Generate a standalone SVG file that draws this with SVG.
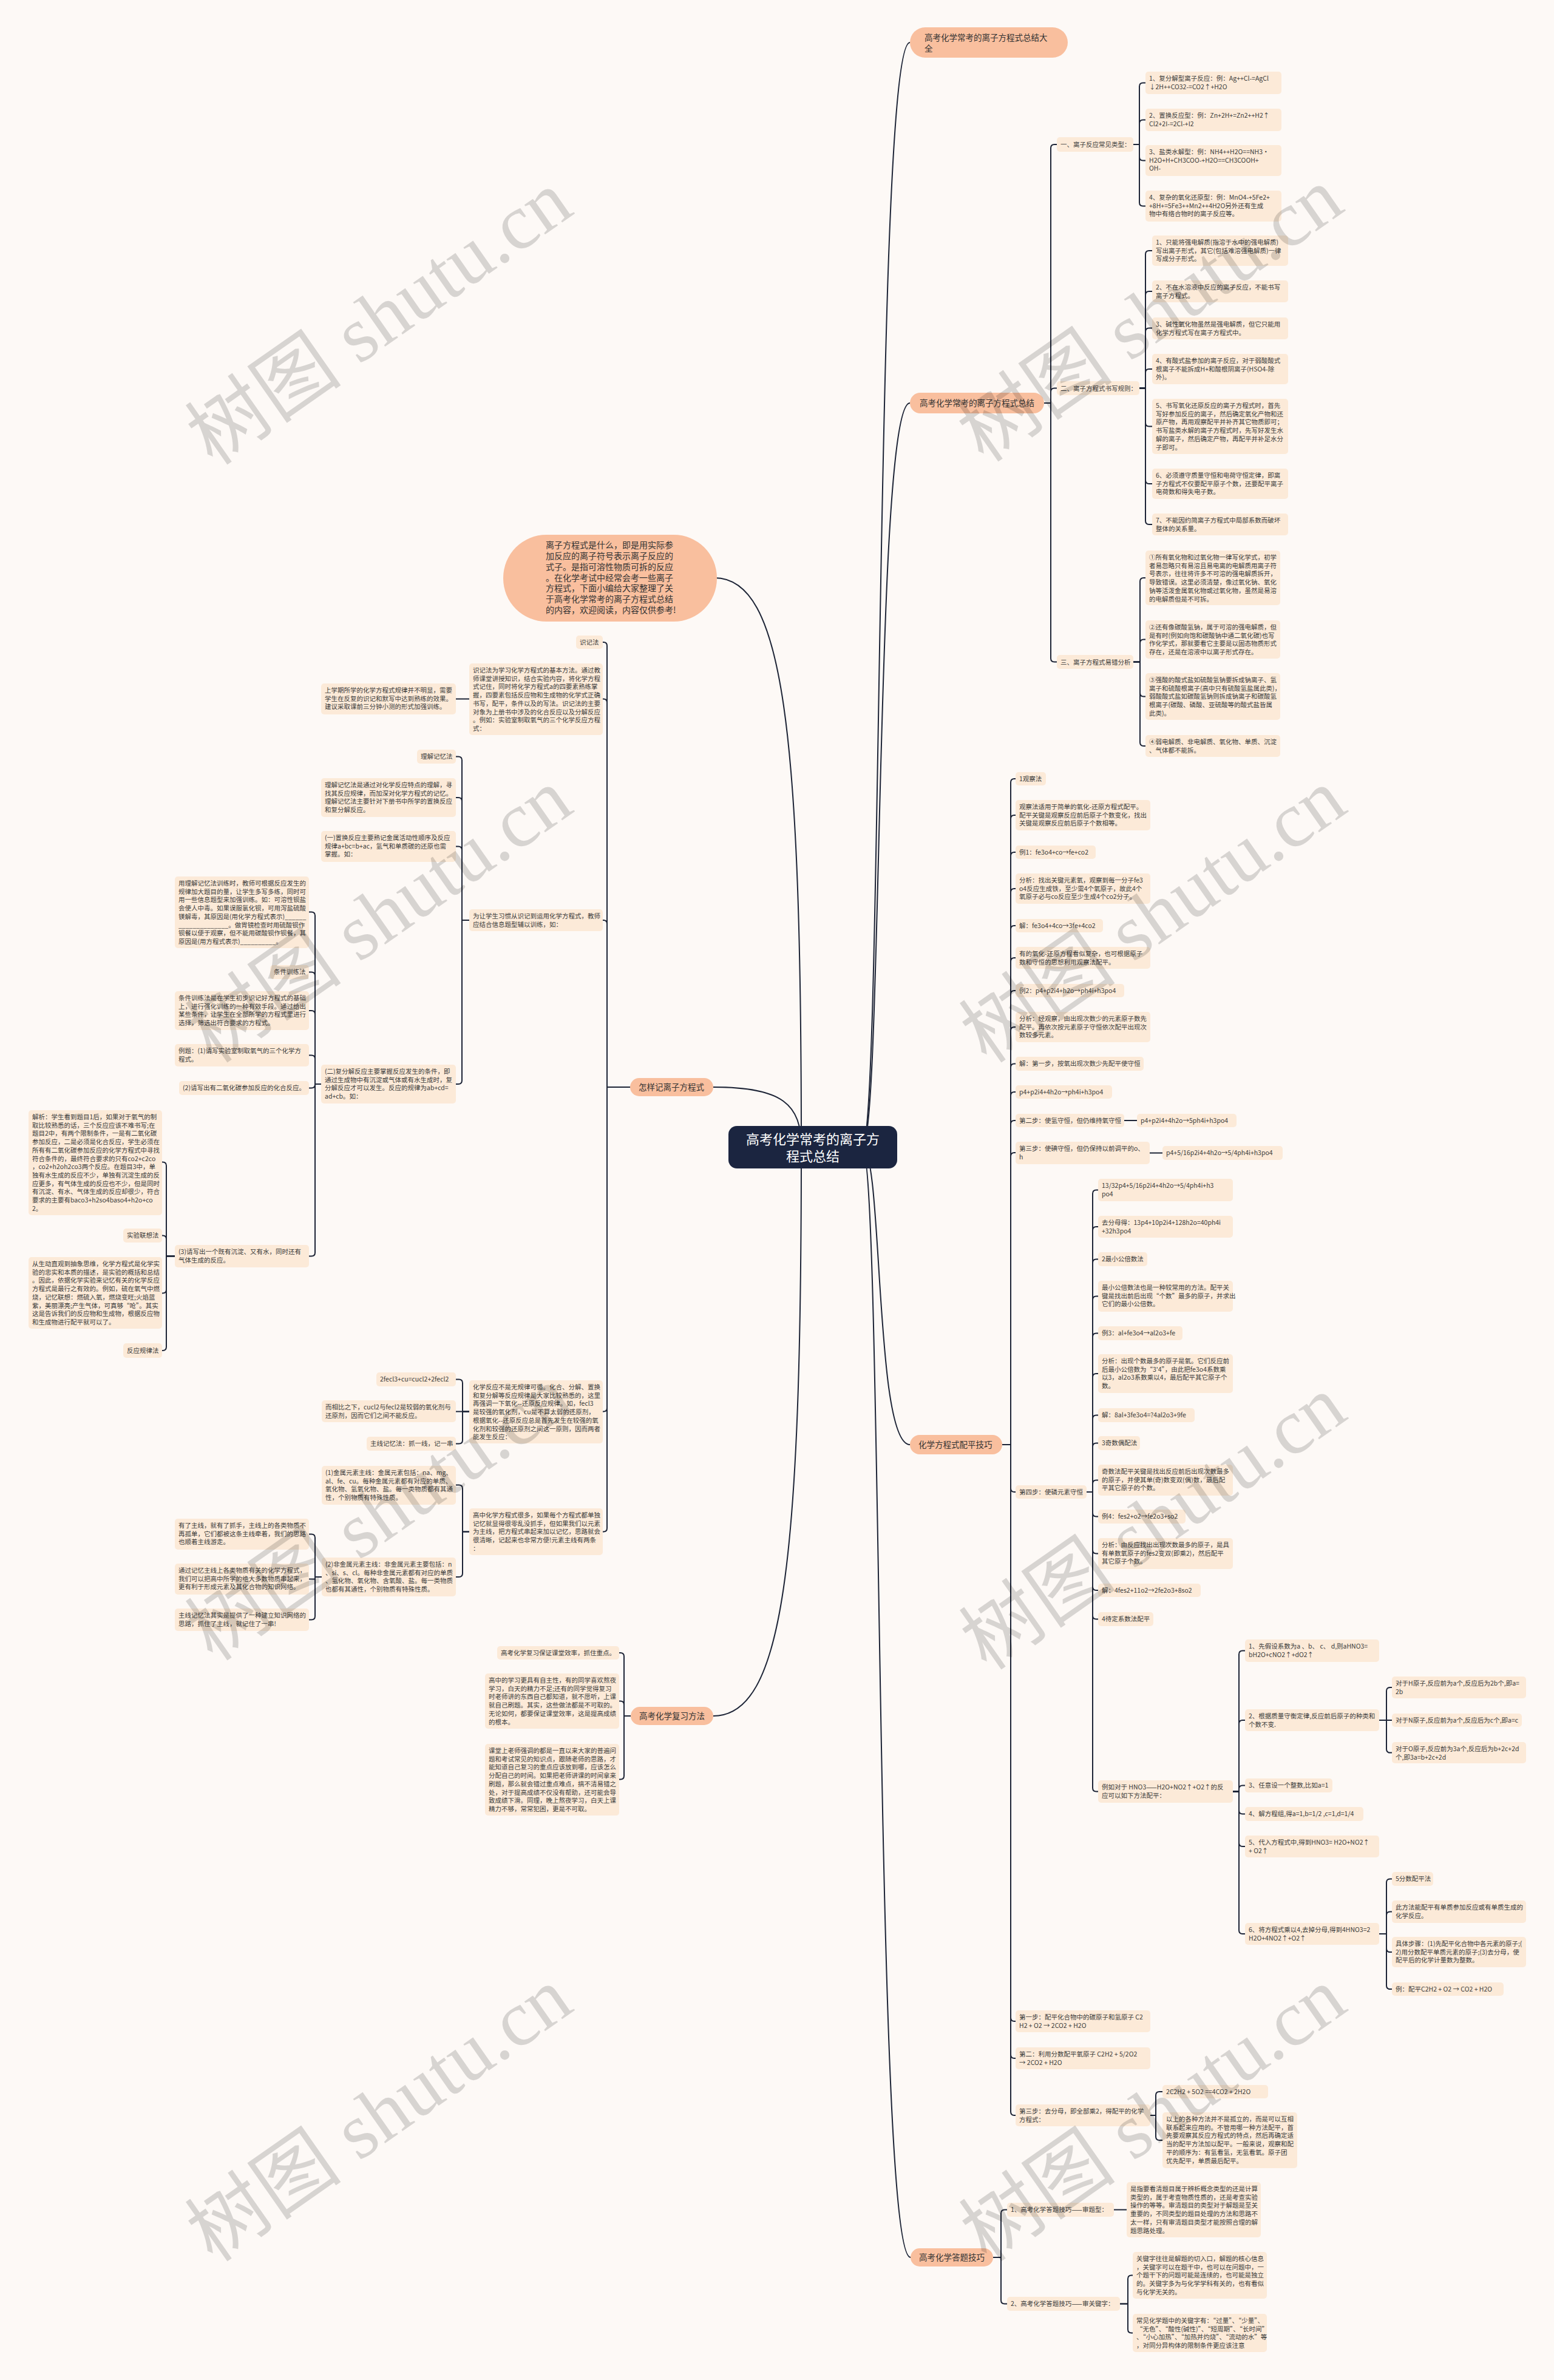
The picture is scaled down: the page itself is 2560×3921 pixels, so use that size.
<svg xmlns="http://www.w3.org/2000/svg" width="2560" height="3921" viewBox="0 0 2560 3921">
<style>
.t{font-family:"Noto Sans CJK SC","Noto Sans",sans-serif;font-size:10.5px;fill:#3a3a3a}
.mt{font-family:"Noto Sans CJK SC","Noto Sans",sans-serif;font-size:13.5px;fill:#333}
.rt{font-family:"Noto Sans CJK SC","Noto Sans",sans-serif;font-size:22px;fill:#ffffff}
.bx{fill:#fcead8}
.mn{fill:#f9bf9e}
.ln{fill:none;stroke:#1d2436;stroke-width:2;stroke-linejoin:round}
.wm{font-family:"Liberation Serif","Noto Sans CJK SC",serif;font-size:130px;fill:#000;fill-opacity:0.15}
</style>
<rect x="0" y="0" width="2560" height="3921" fill="#fdf9f6"/>
<g id="connectors">
<path class="ln" d="M1420 1890 C1455 1890 1440 70 1499 70"/>
<path class="ln" d="M1420 1890 C1455 1890 1440 664 1499 664"/>
<path class="ln" d="M1420 1890 C1455 1890 1440 2380 1499 2380"/>
<path class="ln" d="M1420 1890 C1455 1890 1440 3719 1500 3719"/>
<path class="ln" d="M1177 952 C1290 952 1320 1200 1320 1890"/>
<path class="ln" d="M1175 1791 C1290 1791 1320 1820 1320 1890"/>
<path class="ln" d="M1175 2827 C1290 2827 1320 2580 1320 1890"/>
<path class="ln" d="M1720 664 H1731 V244 Q1731 238 1737 238 H1741"/>
<path class="ln" d="M1720 664 H1731 V645.5 Q1731 639.5 1737 639.5 H1741"/>
<path class="ln" d="M1720 664 H1731 V1084.5 Q1731 1090.5 1737 1090.5 H1741"/>
<path class="ln" d="M1867 238 H1877 V142.5 Q1877 136.5 1883 136.5 H1887"/>
<path class="ln" d="M1867 238 H1877 V203.5 Q1877 197.5 1883 197.5 H1887"/>
<path class="ln" d="M1867 238 H1877 V258.5 Q1877 264.5 1883 264.5 H1887"/>
<path class="ln" d="M1867 238 H1877 V333.5 Q1877 339.5 1883 339.5 H1887"/>
<path class="ln" d="M1877 639.5 H1887 V419 Q1887 413 1893 413 H1898"/>
<path class="ln" d="M1877 639.5 H1887 V486 Q1887 480 1893 480 H1898"/>
<path class="ln" d="M1877 639.5 H1887 V546.5 Q1887 540.5 1893 540.5 H1898"/>
<path class="ln" d="M1877 639.5 H1887 V614 Q1887 608 1893 608 H1898"/>
<path class="ln" d="M1877 639.5 H1887 V696.5 Q1887 702.5 1893 702.5 H1898"/>
<path class="ln" d="M1877 639.5 H1887 V791 Q1887 797 1893 797 H1898"/>
<path class="ln" d="M1877 639.5 H1887 V858 Q1887 864 1893 864 H1898"/>
<path class="ln" d="M1867 1090.5 H1878 V958 Q1878 952 1884 952 H1887"/>
<path class="ln" d="M1867 1090.5 H1878 V1059.5 Q1878 1053.5 1884 1053.5 H1887"/>
<path class="ln" d="M1867 1090.5 H1878 V1141.5 Q1878 1147.5 1884 1147.5 H1887"/>
<path class="ln" d="M1867 1090.5 H1878 V1223 Q1878 1229 1884 1229 H1887"/>
<path class="ln" d="M1651 2380 H1665 V1289 Q1665 1283 1671 1283 H1673"/>
<path class="ln" d="M1651 2380 H1665 V1349 Q1665 1343 1671 1343 H1673"/>
<path class="ln" d="M1651 2380 H1665 V1410 Q1665 1404 1671 1404 H1673"/>
<path class="ln" d="M1651 2380 H1665 V1470 Q1665 1464 1671 1464 H1673"/>
<path class="ln" d="M1651 2380 H1665 V1531 Q1665 1525 1671 1525 H1673"/>
<path class="ln" d="M1651 2380 H1665 V1584 Q1665 1578 1671 1578 H1673"/>
<path class="ln" d="M1651 2380 H1665 V1638 Q1665 1632 1671 1632 H1673"/>
<path class="ln" d="M1651 2380 H1665 V1698 Q1665 1692 1671 1692 H1673"/>
<path class="ln" d="M1651 2380 H1665 V1758.5 Q1665 1752.5 1671 1752.5 H1673"/>
<path class="ln" d="M1651 2380 H1665 V1805 Q1665 1799 1671 1799 H1673"/>
<path class="ln" d="M1651 2380 H1665 V1852 Q1665 1846 1671 1846 H1673"/>
<path class="ln" d="M1651 2380 H1665 V1905 Q1665 1899 1671 1899 H1673"/>
<path class="ln" d="M1651 2380 H1665 V2452 Q1665 2458 1671 2458 H1673"/>
<path class="ln" d="M1651 2380 H1665 V3324 Q1665 3330 1671 3330 H1673"/>
<path class="ln" d="M1651 2380 H1665 V3385 Q1665 3391 1671 3391 H1673"/>
<path class="ln" d="M1651 2380 H1665 V3479 Q1665 3485 1671 3485 H1673"/>
<path class="ln" d="M1852 1846 H1873"/>
<path class="ln" d="M1894 1899.5 H1915"/>
<path class="ln" d="M1790 2458 H1800 V1966.5 Q1800 1960.5 1806 1960.5 H1809"/>
<path class="ln" d="M1790 2458 H1800 V2027 Q1800 2021 1806 2021 H1809"/>
<path class="ln" d="M1790 2458 H1800 V2080.5 Q1800 2074.5 1806 2074.5 H1809"/>
<path class="ln" d="M1790 2458 H1800 V2141.5 Q1800 2135.5 1806 2135.5 H1809"/>
<path class="ln" d="M1790 2458 H1800 V2202.5 Q1800 2196.5 1806 2196.5 H1809"/>
<path class="ln" d="M1790 2458 H1800 V2269 Q1800 2263 1806 2263 H1809"/>
<path class="ln" d="M1790 2458 H1800 V2337.5 Q1800 2331.5 1806 2331.5 H1809"/>
<path class="ln" d="M1790 2458 H1800 V2383.5 Q1800 2377.5 1806 2377.5 H1809"/>
<path class="ln" d="M1790 2458 H1800 V2444.5 Q1800 2438.5 1806 2438.5 H1809"/>
<path class="ln" d="M1790 2458 H1800 V2492.5 Q1800 2498.5 1806 2498.5 H1809"/>
<path class="ln" d="M1790 2458 H1800 V2553.5 Q1800 2559.5 1806 2559.5 H1809"/>
<path class="ln" d="M1790 2458 H1800 V2614 Q1800 2620 1806 2620 H1809"/>
<path class="ln" d="M1790 2458 H1800 V2661.5 Q1800 2667.5 1806 2667.5 H1809"/>
<path class="ln" d="M1790 2458 H1800 V2945.5 Q1800 2951.5 1806 2951.5 H1809"/>
<path class="ln" d="M2031 2951.5 H2041 V2725.5 Q2041 2719.5 2047 2719.5 H2051"/>
<path class="ln" d="M2031 2951.5 H2041 V2840 Q2041 2834 2047 2834 H2051"/>
<path class="ln" d="M2031 2951.5 H2041 V2947.5 Q2041 2941.5 2047 2941.5 H2051"/>
<path class="ln" d="M2031 2951.5 H2041 V2982.5 Q2041 2988.5 2047 2988.5 H2051"/>
<path class="ln" d="M2031 2951.5 H2041 V3036 Q2041 3042 2047 3042 H2051"/>
<path class="ln" d="M2031 2951.5 H2041 V3180 Q2041 3186 2047 3186 H2051"/>
<path class="ln" d="M2272 2834 H2284 V2786 Q2284 2780 2290 2780 H2293"/>
<path class="ln" d="M2272 2834 H2293"/>
<path class="ln" d="M2272 2834 H2284 V2881.5 Q2284 2887.5 2290 2887.5 H2293"/>
<path class="ln" d="M2272 3186 H2284 V3101.5 Q2284 3095.5 2290 3095.5 H2293"/>
<path class="ln" d="M2272 3186 H2284 V3155.5 Q2284 3149.5 2290 3149.5 H2293"/>
<path class="ln" d="M2272 3186 H2284 V3210 Q2284 3216 2290 3216 H2293"/>
<path class="ln" d="M2272 3186 H2284 V3271 Q2284 3277 2290 3277 H2293"/>
<path class="ln" d="M1895 3485 H1904 V3452 Q1904 3446 1910 3446 H1915"/>
<path class="ln" d="M1895 3485 H1904 V3520 Q1904 3526 1910 3526 H1915"/>
<path class="ln" d="M1636 3719 H1649 V3646.5 Q1649 3640.5 1655 3640.5 H1659"/>
<path class="ln" d="M1636 3719 H1649 V3789.5 Q1649 3795.5 1655 3795.5 H1659"/>
<path class="ln" d="M1835 3640.5 H1856"/>
<path class="ln" d="M1845 3795.5 H1858 V3754.5 Q1858 3748.5 1864 3748.5 H1866"/>
<path class="ln" d="M1845 3795.5 H1858 V3837.5 Q1858 3843.5 1864 3843.5 H1866"/>
<path class="ln" d="M1038 1791 H1000 V1064 Q1000 1058 994 1058 H993"/>
<path class="ln" d="M1038 1791 H1000 V1157.5 Q1000 1151.5 994 1151.5 H993"/>
<path class="ln" d="M1038 1791 H1000 V1522 Q1000 1516 994 1516 H993"/>
<path class="ln" d="M1038 1791 H1000 V2319.5 Q1000 2325.5 994 2325.5 H993"/>
<path class="ln" d="M1038 1791 H1000 V2517.5 Q1000 2523.5 994 2523.5 H993"/>
<path class="ln" d="M773 1151.5 H751"/>
<path class="ln" d="M773 1516 H761 V1252.5 Q761 1246.5 755 1246.5 H751"/>
<path class="ln" d="M773 1516 H761 V1320 Q761 1314 755 1314 H751"/>
<path class="ln" d="M773 1516 H761 V1400.5 Q761 1394.5 755 1394.5 H751"/>
<path class="ln" d="M773 1516 H761 V1780 Q761 1786 755 1786 H751"/>
<path class="ln" d="M529 1786 H519 V1508.5 Q519 1502.5 513 1502.5 H509"/>
<path class="ln" d="M529 1786 H519 V1607.5 Q519 1601.5 513 1601.5 H509"/>
<path class="ln" d="M529 1786 H519 V1671 Q519 1665 513 1665 H509"/>
<path class="ln" d="M529 1786 H519 V1744.5 Q519 1738.5 513 1738.5 H509"/>
<path class="ln" d="M529 1786 H519 V1786.5 Q519 1792.5 513 1792.5 H509"/>
<path class="ln" d="M529 1786 H519 V2063.5 Q519 2069.5 513 2069.5 H509"/>
<path class="ln" d="M288 2069.5 H274 V1920.5 Q274 1914.5 268 1914.5 H267"/>
<path class="ln" d="M288 2069.5 H274 V2041.5 Q274 2035.5 268 2035.5 H267"/>
<path class="ln" d="M288 2069.5 H274 V2124.5 Q274 2130.5 268 2130.5 H267"/>
<path class="ln" d="M288 2069.5 H274 V2219 Q274 2225 268 2225 H267"/>
<path class="ln" d="M773 2325.5 H762 V2278.5 Q762 2272.5 756 2272.5 H751"/>
<path class="ln" d="M773 2325.5 H751"/>
<path class="ln" d="M773 2325.5 H762 V2372.5 Q762 2378.5 756 2378.5 H751"/>
<path class="ln" d="M773 2523.5 H762 V2452.5 Q762 2446.5 756 2446.5 H751"/>
<path class="ln" d="M773 2523.5 H762 V2592 Q762 2598 756 2598 H751"/>
<path class="ln" d="M530 2598 H519 V2533.5 Q519 2527.5 513 2527.5 H509"/>
<path class="ln" d="M530 2598 H519 V2601.5 H509"/>
<path class="ln" d="M530 2598 H519 V2662.5 Q519 2668.5 513 2668.5 H509"/>
<path class="ln" d="M1039 2827 H1028 V2729 Q1028 2723 1022 2723 H1020"/>
<path class="ln" d="M1039 2827 H1028 V2808.5 Q1028 2802.5 1022 2802.5 H1020"/>
<path class="ln" d="M1039 2827 H1028 V2925.5 Q1028 2931.5 1022 2931.5 H1020"/>
</g>
<g id="root"><rect x="1200" y="1855" width="278" height="70" rx="14" fill="#1b2540"/><text class="rt" text-anchor="middle"><tspan x="1339" y="1885">高考化学常考的离子方</tspan><tspan x="1339" y="1913">程式总结</tspan></text></g>
<g id="intro"><rect x="829" y="881" width="352" height="143" rx="71" class="mn"/><text class="mt" style="font-size:14px"><tspan x="899" y="903">离子方程式是什么，即是用实际参</tspan><tspan x="899" y="921">加反应的离子符号表示离子反应的</tspan><tspan x="899" y="939">式子。是指可溶性物质可拆的反应</tspan><tspan x="899" y="956.5">。在化学考试中经常会考一些离子</tspan><tspan x="899" y="974">方程式，下面小编给大家整理了关</tspan><tspan x="899" y="992">于高考化学常考的离子方程式总结</tspan><tspan x="899" y="1010">的内容，欢迎阅读，内容仅供参考!</tspan></text></g>
<g id="A1"><rect x="1499" y="45" width="260" height="50" rx="25" class="mn"/><text class="mt"><tspan x="1523" y="67">高考化学常考的离子方程式总结大</tspan><tspan x="1523" y="85">全</tspan></text></g>
<g id="A2"><rect x="1499" y="647" width="221" height="34" rx="17" class="mn"/><text class="mt" x="1515" y="669">高考化学常考的离子方程式总结</text></g>
<g id="A3"><rect x="1499" y="2364" width="152" height="32" rx="16" class="mn"/><text class="mt" x="1513" y="2385">化学方程式配平技巧</text></g>
<g id="A4"><rect x="1500" y="3704" width="136" height="30" rx="15" class="mn"/><text class="mt" x="1514" y="3724">高考化学答题技巧</text></g>
<g id="LA"><rect x="1038" y="1776" width="137" height="30" rx="15" class="mn"/><text class="mt" x="1052" y="1796">怎样记离子方程式</text></g>
<g id="LB"><rect x="1039" y="2812" width="136" height="30" rx="15" class="mn"/><text class="mt" x="1053" y="2832">高考化学复习方法</text></g>
<g id="B1"><rect x="1741" y="226" width="126" height="24" rx="5" class="bx"/><text class="t" x="1747" y="242">一、离子反应常见类型：</text></g>
<g id="B2"><rect x="1741" y="628" width="136" height="23" rx="5" class="bx"/><text class="t" x="1747" y="644">二、离子方程式书写规则：</text></g>
<g id="B3"><rect x="1741" y="1079" width="126" height="23" rx="5" class="bx"/><text class="t" x="1747" y="1095">三、离子方程式易错分析</text></g>
<g id="C1"><rect x="1887" y="118" width="224" height="37" rx="5" class="bx"/><text class="t"><tspan x="1893" y="133">1、复分解型离子反应：例：Ag++Cl-=AgCl</tspan><tspan x="1893" y="146.7">↓2H++CO32-=CO2↑+H2O</tspan></text></g>
<g id="C2"><rect x="1887" y="179" width="224" height="37" rx="5" class="bx"/><text class="t"><tspan x="1893" y="194">2、置换反应型：例：Zn+2H+=Zn2++H2↑</tspan><tspan x="1893" y="207.7">Cl2+2I-=2Cl-+I2</tspan></text></g>
<g id="C3"><rect x="1887" y="239" width="224" height="51" rx="5" class="bx"/><text class="t"><tspan x="1893" y="254">3、盐类水解型：例：NH4++H2O==NH3·</tspan><tspan x="1893" y="267.7">H2O+H+CH3COO-+H2O==CH3COOH+</tspan><tspan x="1893" y="281.4">OH-</tspan></text></g>
<g id="C4"><rect x="1887" y="314" width="224" height="51" rx="5" class="bx"/><text class="t"><tspan x="1893" y="329">4、复杂的氧化还原型：例：MnO4-+5Fe2+</tspan><tspan x="1893" y="342.7">+8H+=5Fe3++Mn2++4H2O另外还有生成</tspan><tspan x="1893" y="356.4">物中有络合物时的离子反应等。</tspan></text></g>
<g id="D1"><rect x="1898" y="388" width="224" height="50" rx="5" class="bx"/><text class="t"><tspan x="1904" y="403">1、只能将强电解质(指溶于水中的强电解质)</tspan><tspan x="1904" y="416.7">写出离子形式，其它(包括难溶强电解质)一律</tspan><tspan x="1904" y="430.4">写成分子形式。</tspan></text></g>
<g id="D2"><rect x="1898" y="462" width="224" height="36" rx="5" class="bx"/><text class="t"><tspan x="1904" y="477">2、不在水溶液中反应的离子反应，不能书写</tspan><tspan x="1904" y="490.7">离子方程式。</tspan></text></g>
<g id="D3"><rect x="1898" y="523" width="224" height="36" rx="5" class="bx"/><text class="t"><tspan x="1904" y="538">3、碱性氧化物虽然是强电解质，但它只能用</tspan><tspan x="1904" y="551.7">化学方程式写在离子方程式中。</tspan></text></g>
<g id="D4"><rect x="1898" y="583" width="224" height="50" rx="5" class="bx"/><text class="t"><tspan x="1904" y="598">4、有酸式盐参加的离子反应，对于弱酸酸式</tspan><tspan x="1904" y="611.7">根离子不能拆成H+和酸根阴离子(HSO4-除</tspan><tspan x="1904" y="625.4">外)。</tspan></text></g>
<g id="D5"><rect x="1898" y="657" width="224" height="91" rx="5" class="bx"/><text class="t"><tspan x="1904" y="672">5、书写氧化还原反应的离子方程式时，首先</tspan><tspan x="1904" y="685.7">写好参加反应的离子，然后确定氧化产物和还</tspan><tspan x="1904" y="699.4">原产物，再用观察配平并补齐其它物质即可；</tspan><tspan x="1904" y="713.1">书写盐类水解的离子方程式时，先写好发生水</tspan><tspan x="1904" y="726.8">解的离子，然后确定产物，再配平并补足水分</tspan><tspan x="1904" y="740.5">子即可。</tspan></text></g>
<g id="D6"><rect x="1898" y="772" width="224" height="50" rx="5" class="bx"/><text class="t"><tspan x="1904" y="787">6、必须遵守质量守恒和电荷守恒定律，即离</tspan><tspan x="1904" y="800.7">子方程式不仅要配平原子个数，还要配平离子</tspan><tspan x="1904" y="814.4">电荷数和得失电子数。</tspan></text></g>
<g id="D7"><rect x="1898" y="846" width="224" height="36" rx="5" class="bx"/><text class="t"><tspan x="1904" y="861">7、不能因约简离子方程式中局部系数而破坏</tspan><tspan x="1904" y="874.7">整体的关系量。</tspan></text></g>
<g id="E1"><rect x="1887" y="907" width="222" height="90" rx="5" class="bx"/><text class="t"><tspan x="1893" y="922">①所有氧化物和过氧化物一律写化学式，初学</tspan><tspan x="1893" y="935.7">者易忽略只有易溶且易电离的电解质用离子符</tspan><tspan x="1893" y="949.4">号表示，往往将许多不可溶的强电解质拆开，</tspan><tspan x="1893" y="963.1">导致错误。这里必须清楚，像过氧化钠、氧化</tspan><tspan x="1893" y="976.8">钠等活泼金属氧化物或过氧化物，虽然是易溶</tspan><tspan x="1893" y="990.5">的电解质但是不可拆。</tspan></text></g>
<g id="E2"><rect x="1887" y="1022" width="222" height="63" rx="5" class="bx"/><text class="t"><tspan x="1893" y="1037">②还有像碳酸氢钠，属于可溶的强电解质，但</tspan><tspan x="1893" y="1050.7">是有时(例如向饱和碳酸钠中通二氧化碳)也写</tspan><tspan x="1893" y="1064.4">作化学式，那就要看它主要是以固态物质形式</tspan><tspan x="1893" y="1078.1">存在，还是在溶液中以离子形式存在。</tspan></text></g>
<g id="E3"><rect x="1887" y="1109" width="222" height="77" rx="5" class="bx"/><text class="t"><tspan x="1893" y="1124">③强酸的酸式盐如硫酸氢钠要拆成钠离子、氢</tspan><tspan x="1893" y="1137.7">离子和硫酸根离子(高中只有硫酸氢盐属此类)，</tspan><tspan x="1893" y="1151.4">弱酸酸式盐如碳酸氢钠则拆成钠离子和碳酸氢</tspan><tspan x="1893" y="1165.1">根离子(碳酸、磷酸、亚硫酸等的酸式盐皆属</tspan><tspan x="1893" y="1178.8">此类)。</tspan></text></g>
<g id="E4"><rect x="1887" y="1211" width="222" height="36" rx="5" class="bx"/><text class="t"><tspan x="1893" y="1226">④弱电解质、非电解质、氧化物、单质、沉淀</tspan><tspan x="1893" y="1239.7">、气体都不能拆。</tspan></text></g>
<g id="F1"><rect x="1673" y="1272" width="50" height="22" rx="5" class="bx"/><text class="t" x="1679" y="1287">1观察法</text></g>
<g id="F2"><rect x="1673" y="1318" width="222" height="50" rx="5" class="bx"/><text class="t"><tspan x="1679" y="1333">观察法适用于简单的氧化-还原方程式配平。</tspan><tspan x="1679" y="1346.7">配平关键是观察反应前后原子个数变化，找出</tspan><tspan x="1679" y="1360.4">关键是观察反应前后原子个数相等。</tspan></text></g>
<g id="F3"><rect x="1673" y="1393" width="132" height="22" rx="5" class="bx"/><text class="t" x="1679" y="1408">例1：fe3o4+co→fe+co2</text></g>
<g id="F4"><rect x="1673" y="1439" width="222" height="50" rx="5" class="bx"/><text class="t"><tspan x="1679" y="1454">分析：找出关键元素氧，观察到每一分子fe3</tspan><tspan x="1679" y="1467.7">o4反应生成铁，至少需4个氧原子，故此4个</tspan><tspan x="1679" y="1481.4">氧原子必与co反应至少生成4个co2分子。</tspan></text></g>
<g id="F5"><rect x="1673" y="1514" width="144" height="22" rx="5" class="bx"/><text class="t" x="1679" y="1529">解：fe3o4+4co→3fe+4co2</text></g>
<g id="F6"><rect x="1673" y="1560" width="222" height="36" rx="5" class="bx"/><text class="t"><tspan x="1679" y="1575">有的氧化-还原方程看似复杂，也可根据原子</tspan><tspan x="1679" y="1588.7">数和守恒的思想利用观察法配平。</tspan></text></g>
<g id="F7"><rect x="1673" y="1621" width="179" height="22" rx="5" class="bx"/><text class="t" x="1679" y="1636">例2：p4+p2i4+h2o→ph4i+h3po4</text></g>
<g id="F8"><rect x="1673" y="1667" width="222" height="50" rx="5" class="bx"/><text class="t"><tspan x="1679" y="1682">分析：经观察，由出现次数少的元素原子数先</tspan><tspan x="1679" y="1695.7">配平。再依次按元素原子守恒依次配平出现次</tspan><tspan x="1679" y="1709.4">数较多元素。</tspan></text></g>
<g id="F9"><rect x="1673" y="1741" width="211" height="23" rx="5" class="bx"/><text class="t" x="1679" y="1756">解：第一步，按氧出现次数少先配平使守恒</text></g>
<g id="F10"><rect x="1673" y="1788" width="159" height="22" rx="5" class="bx"/><text class="t" x="1679" y="1803">p4+p2i4+4h2o→ph4i+h3po4</text></g>
<g id="F11"><rect x="1673" y="1835" width="179" height="22" rx="5" class="bx"/><text class="t" x="1679" y="1850">第二步：使氢守恒，但仍维持氧守恒</text></g>
<g id="G1"><rect x="1873" y="1835" width="164" height="22" rx="5" class="bx"/><text class="t" x="1879" y="1850">p4+p2i4+4h2o→5ph4i+h3po4</text></g>
<g id="F12"><rect x="1673" y="1881" width="221" height="37" rx="5" class="bx"/><text class="t"><tspan x="1679" y="1896">第三步：使碘守恒，但仍保持以前调平的o、</tspan><tspan x="1679" y="1909.7">h</tspan></text></g>
<g id="G2"><rect x="1915" y="1888" width="198" height="23" rx="5" class="bx"/><text class="t" x="1921" y="1903">p4+5/16p2i4+4h2o→5/4ph4i+h3po4</text></g>
<g id="F13"><rect x="1673" y="2447" width="117" height="22" rx="5" class="bx"/><text class="t" x="1679" y="2462">第四步：使磷元素守恒</text></g>
<g id="H1"><rect x="1809" y="1942" width="222" height="37" rx="5" class="bx"/><text class="t"><tspan x="1815" y="1957">13/32p4+5/16p2i4+4h2o→5/4ph4i+h3</tspan><tspan x="1815" y="1970.7">po4</tspan></text></g>
<g id="H2"><rect x="1809" y="2003" width="222" height="36" rx="5" class="bx"/><text class="t"><tspan x="1815" y="2018">去分母得：13p4+10p2i4+128h2o=40ph4i</tspan><tspan x="1815" y="2031.7">+32h3po4</tspan></text></g>
<g id="H3"><rect x="1809" y="2063" width="81" height="23" rx="5" class="bx"/><text class="t" x="1815" y="2078">2最小公倍数法</text></g>
<g id="H4"><rect x="1809" y="2110" width="222" height="51" rx="5" class="bx"/><text class="t"><tspan x="1815" y="2125">最小公倍数法也是一种较常用的方法。配平关</tspan><tspan x="1815" y="2138.7">键是找出前后出现“个数”最多的原子，并求出</tspan><tspan x="1815" y="2152.4">它们的最小公倍数。</tspan></text></g>
<g id="H5"><rect x="1809" y="2185" width="139" height="23" rx="5" class="bx"/><text class="t" x="1815" y="2200">例3：al+fe3o4→al2o3+fe</text></g>
<g id="H6"><rect x="1809" y="2231" width="222" height="64" rx="5" class="bx"/><text class="t"><tspan x="1815" y="2246">分析：出现个数最多的原子是氧。它们反应前</tspan><tspan x="1815" y="2259.7">后最小公倍数为“3'4”，由此把fe3o4系数乘</tspan><tspan x="1815" y="2273.4">以3，al2o3系数乘以4，最后配平其它原子个</tspan><tspan x="1815" y="2287.1">数。</tspan></text></g>
<g id="H7"><rect x="1809" y="2320" width="159" height="23" rx="5" class="bx"/><text class="t" x="1815" y="2335">解：8al+3fe3o4=?4al2o3+9fe</text></g>
<g id="H8"><rect x="1809" y="2366" width="69" height="23" rx="5" class="bx"/><text class="t" x="1815" y="2381">3奇数偶配法</text></g>
<g id="H9"><rect x="1809" y="2413" width="222" height="51" rx="5" class="bx"/><text class="t"><tspan x="1815" y="2428">奇数法配平关键是找出反应前后出现次数最多</tspan><tspan x="1815" y="2441.7">的原子，并使其单(奇)数变双(偶)数，最后配</tspan><tspan x="1815" y="2455.4">平其它原子的个数。</tspan></text></g>
<g id="H10"><rect x="1809" y="2487" width="144" height="23" rx="5" class="bx"/><text class="t" x="1815" y="2502">例4：fes2+o2→fe2o3+so2</text></g>
<g id="H11"><rect x="1809" y="2534" width="222" height="51" rx="5" class="bx"/><text class="t"><tspan x="1815" y="2549">分析：由反应找出出现次数最多的原子，是具</tspan><tspan x="1815" y="2562.7">有单数氧原子的fes2变双(即乘2)，然后配平</tspan><tspan x="1815" y="2576.4">其它原子个数。</tspan></text></g>
<g id="H12"><rect x="1809" y="2609" width="169" height="22" rx="5" class="bx"/><text class="t" x="1815" y="2624">解：4fes2+11o2→2fe2o3+8so2</text></g>
<g id="H13"><rect x="1809" y="2656" width="91" height="23" rx="5" class="bx"/><text class="t" x="1815" y="2671">4待定系数法配平</text></g>
<g id="H14"><rect x="1809" y="2933" width="222" height="37" rx="5" class="bx"/><text class="t"><tspan x="1815" y="2948">例如对于 HNO3——H2O+NO2↑+O2↑的反</tspan><tspan x="1815" y="2961.7">应可以如下方法配平：</tspan></text></g>
<g id="I1"><rect x="2051" y="2701" width="221" height="37" rx="5" class="bx"/><text class="t"><tspan x="2057" y="2716">1、先假设系数为a 、b、 c、 d,则aHNO3=</tspan><tspan x="2057" y="2729.7">bH2O+cNO2↑+dO2↑</tspan></text></g>
<g id="I2"><rect x="2051" y="2816" width="221" height="36" rx="5" class="bx"/><text class="t"><tspan x="2057" y="2831">2、根据质量守衡定律,反应前后原子的种类和</tspan><tspan x="2057" y="2844.7">个数不变.</tspan></text></g>
<g id="J1"><rect x="2293" y="2762" width="221" height="36" rx="5" class="bx"/><text class="t"><tspan x="2299" y="2777">对于H原子,反应前为a个,反应后为2b个,即a=</tspan><tspan x="2299" y="2790.7">2b</tspan></text></g>
<g id="J2"><rect x="2293" y="2823" width="214" height="22" rx="5" class="bx"/><text class="t" x="2299" y="2838">对于N原子,反应前为a个,反应后为c个,即a=c</text></g>
<g id="J3"><rect x="2293" y="2870" width="221" height="35" rx="5" class="bx"/><text class="t"><tspan x="2299" y="2885">对于O原子,反应前为3a个,反应后为b+2c+2d</tspan><tspan x="2299" y="2898.7">个,即3a=b+2c+2d</tspan></text></g>
<g id="I3"><rect x="2051" y="2930" width="144" height="23" rx="5" class="bx"/><text class="t" x="2057" y="2945">3、任意设一个整数,比如a=1</text></g>
<g id="I4"><rect x="2051" y="2977" width="195" height="23" rx="5" class="bx"/><text class="t" x="2057" y="2992">4、解方程组,得a=1,b=1/2 ,c=1,d=1/4</text></g>
<g id="I5"><rect x="2051" y="3024" width="221" height="36" rx="5" class="bx"/><text class="t"><tspan x="2057" y="3039">5、代入方程式中,得到HNO3= H2O+NO2↑</tspan><tspan x="2057" y="3052.7">+ O2↑</tspan></text></g>
<g id="I6"><rect x="2051" y="3168" width="221" height="36" rx="5" class="bx"/><text class="t"><tspan x="2057" y="3183">6、将方程式乘以4,去掉分母,得到4HNO3=2</tspan><tspan x="2057" y="3196.7">H2O+4NO2↑+O2↑</tspan></text></g>
<g id="K1"><rect x="2293" y="3084" width="68" height="23" rx="5" class="bx"/><text class="t" x="2299" y="3099">5分数配平法</text></g>
<g id="K2"><rect x="2293" y="3131" width="221" height="37" rx="5" class="bx"/><text class="t"><tspan x="2299" y="3146">此方法能配平有单质参加反应或有单质生成的</tspan><tspan x="2299" y="3159.7">化学反应。</tspan></text></g>
<g id="K3"><rect x="2293" y="3191" width="221" height="50" rx="5" class="bx"/><text class="t"><tspan x="2299" y="3206">具体步骤：(1)先配平化合物中各元素的原子;(</tspan><tspan x="2299" y="3219.7">2)用分数配平单质元素的原子;(3)去分母，使</tspan><tspan x="2299" y="3233.4">配平后的化学计量数为整数。</tspan></text></g>
<g id="K4"><rect x="2293" y="3266" width="184" height="22" rx="5" class="bx"/><text class="t" x="2299" y="3281">例：配平C2H2 + O2 → CO2 + H2O</text></g>
<g id="H15"><rect x="1673" y="3312" width="222" height="36" rx="5" class="bx"/><text class="t"><tspan x="1679" y="3327">第一步：配平化合物中的碳原子和氢原子 C2</tspan><tspan x="1679" y="3340.7">H2 + O2 → 2CO2 + H2O</tspan></text></g>
<g id="H16"><rect x="1673" y="3373" width="222" height="36" rx="5" class="bx"/><text class="t"><tspan x="1679" y="3388">第二：利用分数配平氧原子 C2H2 + 5/2O2</tspan><tspan x="1679" y="3401.7">→ 2CO2 + H2O</tspan></text></g>
<g id="H17"><rect x="1673" y="3467" width="222" height="36" rx="5" class="bx"/><text class="t"><tspan x="1679" y="3482">第三步：去分母，即全部乘2，得配平的化学</tspan><tspan x="1679" y="3495.7">方程式：</tspan></text></g>
<g id="L1"><rect x="1915" y="3435" width="174" height="22" rx="5" class="bx"/><text class="t" x="1921" y="3450">2C2H2 + 5O2 ==4CO2 + 2H2O</text></g>
<g id="L2"><rect x="1915" y="3480" width="222" height="92" rx="5" class="bx"/><text class="t"><tspan x="1921" y="3495">以上的各种方法并不是孤立的，而是可以互相</tspan><tspan x="1921" y="3508.7">联系起来应用的。不管用哪一种方法配平，首</tspan><tspan x="1921" y="3522.4">先要观察其反应方程式的特点，然后再确定适</tspan><tspan x="1921" y="3536.1">当的配平方法加以配平。一般来说，观察和配</tspan><tspan x="1921" y="3549.8">平的顺序为：有氢看氢，无氢看氧。原子团</tspan><tspan x="1921" y="3563.5">优先配平，单质最后配平。</tspan></text></g>
<g id="M1"><rect x="1659" y="3629" width="176" height="23" rx="5" class="bx"/><text class="t" x="1665" y="3644">1、高考化学答题技巧——审题型：</text></g>
<g id="N1"><rect x="1856" y="3595" width="221" height="91" rx="5" class="bx"/><text class="t"><tspan x="1862" y="3610">是指要看清题目属于辨析概念类型的还是计算</tspan><tspan x="1862" y="3623.7">类型的，属于考查物质性质的，还是考查实验</tspan><tspan x="1862" y="3637.4">操作的等等。审清题目的类型对于解题是至关</tspan><tspan x="1862" y="3651.1">重要的，不同类型的题目处理的方法和思路不</tspan><tspan x="1862" y="3664.8">太一样，只有审清题目类型才能按照合理的解</tspan><tspan x="1862" y="3678.5">题思路处理。</tspan></text></g>
<g id="M2"><rect x="1659" y="3784" width="186" height="23" rx="5" class="bx"/><text class="t" x="1665" y="3799">2、高考化学答题技巧——审关键字：</text></g>
<g id="N2"><rect x="1866" y="3710" width="221" height="77" rx="5" class="bx"/><text class="t"><tspan x="1872" y="3725">关键字往往是解题的切入口，解题的核心信息</tspan><tspan x="1872" y="3738.7">，关键字可以在题干中，也可以在问题中，一</tspan><tspan x="1872" y="3752.4">个题干下的问题可能是连续的，也可能是独立</tspan><tspan x="1872" y="3766.1">的。关键字多为与化学学科有关的，也有看似</tspan><tspan x="1872" y="3779.8">与化学无关的。</tspan></text></g>
<g id="N3"><rect x="1866" y="3812" width="221" height="63" rx="5" class="bx"/><text class="t"><tspan x="1872" y="3827">常见化学题中的关键字有：“过量”、“少量”、</tspan><tspan x="1872" y="3840.7">“无色”、“酸性(碱性)”、“短周期”、“长时间”</tspan><tspan x="1872" y="3854.4">、“小心加热”、“加热并灼烧”、“流动的水”等</tspan><tspan x="1872" y="3868.1">，对同分异构体的限制条件更应该注意</tspan></text></g>
<g id="P0"><rect x="949" y="1047" width="44" height="22" rx="5" class="bx"/><text class="t" x="955" y="1062">识记法</text></g>
<g id="P1"><rect x="773" y="1093" width="220" height="118" rx="5" class="bx"/><text class="t"><tspan x="779" y="1108">识记法为学习化学方程式的基本方法。通过教</tspan><tspan x="779" y="1121.7">师课堂讲授知识，结合实验内容，将化学方程</tspan><tspan x="779" y="1135.4">式记住，同时将化学方程式a的四要素熟练掌</tspan><tspan x="779" y="1149.1">握，四要素包括反应物和生成物的化学式正确</tspan><tspan x="779" y="1162.8">书写，配平，条件以及的写法。识记法的主要</tspan><tspan x="779" y="1176.5">对象为上册书中涉及的化合反应以及分解反应</tspan><tspan x="779" y="1190.2">。例如：实验室制取氧气的三个化学反应方程</tspan><tspan x="779" y="1203.9">式：</tspan></text></g>
<g id="Q1"><rect x="529" y="1126" width="222" height="51" rx="5" class="bx"/><text class="t"><tspan x="535" y="1141">上学期所学的化学方程式规律并不明显，需要</tspan><tspan x="535" y="1154.7">学生在反复的识记和默写中达到熟练的效果。</tspan><tspan x="535" y="1168.4">建议采取课前三分钟小测的形式加强训练。</tspan></text></g>
<g id="P2"><rect x="773" y="1498" width="220" height="36" rx="5" class="bx"/><text class="t"><tspan x="779" y="1513">为让学生习惯从识记到运用化学方程式，教师</tspan><tspan x="779" y="1526.7">应结合信息题型辅以训练，如：</tspan></text></g>
<g id="R1"><rect x="687" y="1235" width="64" height="23" rx="5" class="bx"/><text class="t" x="693" y="1250">理解记忆法</text></g>
<g id="R2"><rect x="529" y="1282" width="222" height="64" rx="5" class="bx"/><text class="t"><tspan x="535" y="1297">理解记忆法是通过对化学反应特点的理解，寻</tspan><tspan x="535" y="1310.7">找其反应规律，而加深对化学方程式的记忆。</tspan><tspan x="535" y="1324.4">理解记忆法主要针对下册书中所学的置换反应</tspan><tspan x="535" y="1338.1">和复分解反应。</tspan></text></g>
<g id="R3"><rect x="529" y="1369" width="222" height="51" rx="5" class="bx"/><text class="t"><tspan x="535" y="1384">(一)置换反应主要熟记金属活动性顺序及反应</tspan><tspan x="535" y="1397.7">规律a+bc=b+ac，氢气和单质碳的还原也需</tspan><tspan x="535" y="1411.4">掌握。如：</tspan></text></g>
<g id="R4"><rect x="529" y="1754" width="222" height="64" rx="5" class="bx"/><text class="t"><tspan x="535" y="1769">(二)复分解反应主要掌握反应发生的条件，即</tspan><tspan x="535" y="1782.7">通过生成物中有沉淀或气体或有水生成时，复</tspan><tspan x="535" y="1796.4">分解反应才可以发生。反应的规律为ab+cd=</tspan><tspan x="535" y="1810.1">ad+cb。如：</tspan></text></g>
<g id="S1"><rect x="288" y="1444" width="221" height="118" rx="5" class="bx"/><text class="t"><tspan x="294" y="1459">用理解记忆法训练时，教师可根据反应发生的</tspan><tspan x="294" y="1472.7">规律加大题目的量，让学生多写多练，同时可</tspan><tspan x="294" y="1486.4">用一些信息题型来加强训练。如：可溶性钡盐</tspan><tspan x="294" y="1500.1">会使人中毒。如果误服氯化钡，可用泻盐硫酸</tspan><tspan x="294" y="1513.8">镁解毒，其原因是(用化学方程式表示)______</tspan><tspan x="294" y="1527.5">______________。做胃镜检查时用硫酸钡作</tspan><tspan x="294" y="1541.2">钡餐以便于观察，但不能用碳酸钡作钡餐，其</tspan><tspan x="294" y="1554.9">原因是(用方程式表示)__________。</tspan></text></g>
<g id="S2"><rect x="445" y="1590" width="64" height="23" rx="5" class="bx"/><text class="t" x="451" y="1605">条件训练法</text></g>
<g id="S3"><rect x="288" y="1633" width="221" height="64" rx="5" class="bx"/><text class="t"><tspan x="294" y="1648">条件训练法是在学生初步识记好方程式的基础</tspan><tspan x="294" y="1661.7">上，进行强化训练的一种有效手段。通过给出</tspan><tspan x="294" y="1675.4">某些条件，让学生在全部所学的方程式里进行</tspan><tspan x="294" y="1689.1">选择，筛选出符合要求的方程式。</tspan></text></g>
<g id="S4"><rect x="288" y="1720" width="221" height="37" rx="5" class="bx"/><text class="t"><tspan x="294" y="1735">例题：(1)请写实验室制取氧气的三个化学方</tspan><tspan x="294" y="1748.7">程式。</tspan></text></g>
<g id="S5"><rect x="295" y="1781" width="214" height="23" rx="5" class="bx"/><text class="t" x="301" y="1796">(2)请写出有二氧化碳参加反应的化合反应。</text></g>
<g id="S6"><rect x="288" y="2051" width="221" height="37" rx="5" class="bx"/><text class="t"><tspan x="294" y="2066">(3)请写出一个既有沉淀、又有水，同时还有</tspan><tspan x="294" y="2079.7">气体生成的反应。</tspan></text></g>
<g id="T1"><rect x="47" y="1829" width="220" height="173" rx="5" class="bx"/><text class="t"><tspan x="53" y="1844">解析：学生看到题目1后，如果对于氧气的制</tspan><tspan x="53" y="1857.7">取比较熟悉的话，三个反应应该不难书写;在</tspan><tspan x="53" y="1871.4">题目2中，有两个限制条件，一是有二氧化碳</tspan><tspan x="53" y="1885.1">参加反应，二是必须是化合反应，学生必须在</tspan><tspan x="53" y="1898.8">所有有二氧化碳参加反应的化学方程式中寻找</tspan><tspan x="53" y="1912.5">符合条件的，最终符合要求的只有co2+c2co</tspan><tspan x="53" y="1926.2">，co2+h2oh2co3两个反应。在题目3中，单</tspan><tspan x="53" y="1939.9">独有水生成的反应不少，单独有沉淀生成的反</tspan><tspan x="53" y="1953.6">应更多，有气体生成的反应也不少，但是同时</tspan><tspan x="53" y="1967.3">有沉淀、有水、气体生成的反应却很少，符合</tspan><tspan x="53" y="1981">要求的主要有baco3+h2so4baso4+h2o+co</tspan><tspan x="53" y="1994.7">2。</tspan></text></g>
<g id="T2"><rect x="203" y="2024" width="64" height="23" rx="5" class="bx"/><text class="t" x="209" y="2039">实验联想法</text></g>
<g id="T3"><rect x="47" y="2071" width="220" height="118" rx="5" class="bx"/><text class="t"><tspan x="53" y="2086">从生动直观到抽象思维，化学方程式是化学实</tspan><tspan x="53" y="2099.7">验的忠实和本质的描述，是实验的概括和总结</tspan><tspan x="53" y="2113.4">。因此，依据化学实验来记忆有关的化学反应</tspan><tspan x="53" y="2127.1">方程式是最行之有效的。例如，硫在氧气中燃</tspan><tspan x="53" y="2140.8">烧，记忆联想：燃硫入氧，燃烧变旺;火焰蓝</tspan><tspan x="53" y="2154.5">紫，美丽漂亮;产生气体，可真够“呛”。其实</tspan><tspan x="53" y="2168.2">这是告诉我们的反应物和生成物，根据反应物</tspan><tspan x="53" y="2181.9">和生成物进行配平就可以了。</tspan></text></g>
<g id="T4"><rect x="203" y="2213" width="64" height="24" rx="5" class="bx"/><text class="t" x="209" y="2229">反应规律法</text></g>
<g id="P3"><rect x="773" y="2274" width="220" height="104" rx="5" class="bx"/><text class="t"><tspan x="779" y="2289">化学反应不是无规律可循。化合、分解、置换</tspan><tspan x="779" y="2302.7">和复分解等反应规律是大家比较熟悉的，这里</tspan><tspan x="779" y="2316.4">再强调一下氧化--还原反应规律。如，fecl3</tspan><tspan x="779" y="2330.1">是较强的氧化剂，cu是不算太弱的还原剂，</tspan><tspan x="779" y="2343.8">根据氧化--还原反应总是首先发生在较强的氧</tspan><tspan x="779" y="2357.5">化剂和较强的还原剂之间这一原则，因而两者</tspan><tspan x="779" y="2371.2">能发生反应：</tspan></text></g>
<g id="U1"><rect x="620" y="2261" width="131" height="23" rx="5" class="bx"/><text class="t" x="626" y="2276">2fecl3+cu=cucl2+2fecl2</text></g>
<g id="U2"><rect x="530" y="2307" width="221" height="36" rx="5" class="bx"/><text class="t"><tspan x="536" y="2322">而相比之下，cucl2与fecl2是较弱的氧化剂与</tspan><tspan x="536" y="2335.7">还原剂，因而它们之间不能反应。</tspan></text></g>
<g id="U3"><rect x="604" y="2367" width="147" height="23" rx="5" class="bx"/><text class="t" x="610" y="2382">主线记忆法：抓一线，记一串</text></g>
<g id="P4"><rect x="773" y="2485" width="220" height="77" rx="5" class="bx"/><text class="t"><tspan x="779" y="2500">高中化学方程式很多，如果每个方程式都单独</tspan><tspan x="779" y="2513.7">记忆就显得很零乱没抓手，但如果我们以元素</tspan><tspan x="779" y="2527.4">为主线，把方程式串起来加以记忆，思路就会</tspan><tspan x="779" y="2541.1">很清晰，记起来也非常方便!元素主线有两条</tspan><tspan x="779" y="2554.8">：</tspan></text></g>
<g id="V1"><rect x="530" y="2415" width="221" height="64" rx="5" class="bx"/><text class="t"><tspan x="536" y="2430">(1)金属元素主线：金属元素包括：na、mg、</tspan><tspan x="536" y="2443.7">al、fe、cu。每种金属元素都有对应的单质、</tspan><tspan x="536" y="2457.4">氧化物、氢氧化物、盐。每一类物质都有其通</tspan><tspan x="536" y="2471.1">性，个别物质有特殊性质。</tspan></text></g>
<g id="V2"><rect x="530" y="2566" width="221" height="64" rx="5" class="bx"/><text class="t"><tspan x="536" y="2581">(2)非金属元素主线：非金属元素主要包括：n</tspan><tspan x="536" y="2594.7">、si、s、cl。每种非金属元素都有对应的单质</tspan><tspan x="536" y="2608.4">、氢化物、氧化物、含氧酸、盐。每一类物质</tspan><tspan x="536" y="2622.1">也都有其通性，个别物质有特殊性质。</tspan></text></g>
<g id="W1"><rect x="288" y="2502" width="221" height="51" rx="5" class="bx"/><text class="t"><tspan x="294" y="2517">有了主线，就有了抓手，主线上的各类物质不</tspan><tspan x="294" y="2530.7">再孤单，它们都被这条主线牵着，我们的思路</tspan><tspan x="294" y="2544.4">也顺着主线游走。</tspan></text></g>
<g id="W2"><rect x="288" y="2576" width="221" height="51" rx="5" class="bx"/><text class="t"><tspan x="294" y="2591">通过记忆主线上各类物质有关的化学方程式，</tspan><tspan x="294" y="2604.7">我们可以把高中所学的绝大多数物质串起来，</tspan><tspan x="294" y="2618.4">更有利于形成元素及其化合物的知识网络。</tspan></text></g>
<g id="W3"><rect x="288" y="2650" width="221" height="37" rx="5" class="bx"/><text class="t"><tspan x="294" y="2665">主线记忆法其实是提供了一种建立知识网络的</tspan><tspan x="294" y="2678.7">思路，抓住了主线，就记住了一串!</tspan></text></g>
<g id="X1"><rect x="819" y="2712" width="201" height="22" rx="5" class="bx"/><text class="t" x="825" y="2727">高考化学复习保证课堂效率，抓住重点。</text></g>
<g id="X2"><rect x="799" y="2757" width="221" height="91" rx="5" class="bx"/><text class="t"><tspan x="805" y="2772">高中的学习更具有自主性，有的同学喜欢熬夜</tspan><tspan x="805" y="2785.7">学习，白天的精力不足;还有的同学觉得复习</tspan><tspan x="805" y="2799.4">时老师讲的东西自己都知道，就不愿听，上课</tspan><tspan x="805" y="2813.1">就自己刷题。其实，这些做法都是不可取的。</tspan><tspan x="805" y="2826.8">无论如何，都要保证课堂效率，这是提高成绩</tspan><tspan x="805" y="2840.5">的根本。</tspan></text></g>
<g id="X3"><rect x="799" y="2873" width="221" height="118" rx="5" class="bx"/><text class="t"><tspan x="805" y="2888">课堂上老师强调的都是一直以来大家的普遍问</tspan><tspan x="805" y="2901.7">题和考试常见的知识点，跟随老师的思路，才</tspan><tspan x="805" y="2915.4">能知道自己复习的重点应该放到哪，应该怎么</tspan><tspan x="805" y="2929.1">分配自己的时间。如果把老师讲课的时间拿来</tspan><tspan x="805" y="2942.8">刷题，那么就会错过重点难点，搞不清易错之</tspan><tspan x="805" y="2956.5">处，对于提高成绩不仅没有帮助，还可能会导</tspan><tspan x="805" y="2970.2">致成绩下滑。同理，晚上熬夜学习，白天上课</tspan><tspan x="805" y="2983.9">精力不够，常常犯困，更是不可取。</tspan></text></g>
<g id="watermarks">
<text class="wm" text-anchor="middle" transform="translate(650 560) rotate(-35)">树图 shutu.cn</text>
<text class="wm" text-anchor="middle" transform="translate(1920 555) rotate(-35)">树图 shutu.cn</text>
<text class="wm" text-anchor="middle" transform="translate(650 1545) rotate(-35)">树图 shutu.cn</text>
<text class="wm" text-anchor="middle" transform="translate(1925 1545) rotate(-35)">树图 shutu.cn</text>
<text class="wm" text-anchor="middle" transform="translate(650 2530) rotate(-35)">树图 shutu.cn</text>
<text class="wm" text-anchor="middle" transform="translate(1925 2545) rotate(-35)">树图 shutu.cn</text>
<text class="wm" text-anchor="middle" transform="translate(650 3520) rotate(-35)">树图 shutu.cn</text>
<text class="wm" text-anchor="middle" transform="translate(1925 3520) rotate(-35)">树图 shutu.cn</text>
</g>
</svg>
